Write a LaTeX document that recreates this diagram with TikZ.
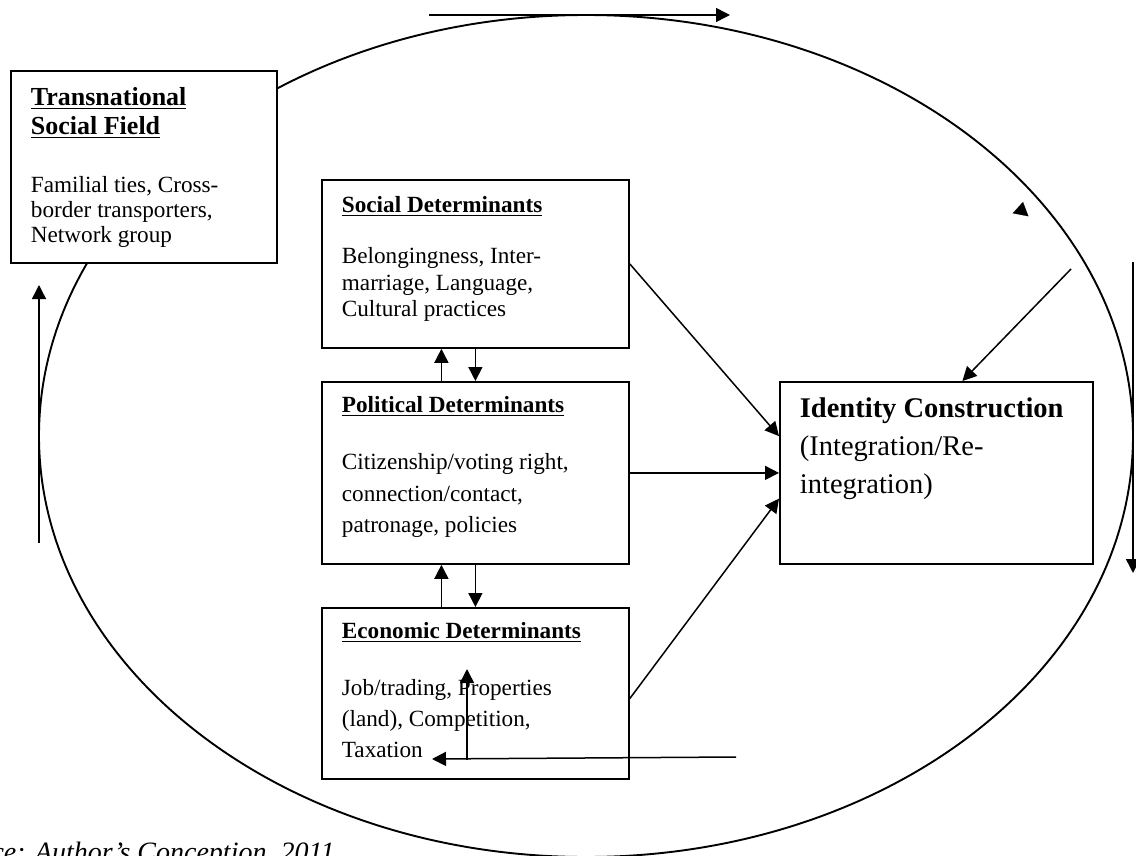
\documentclass[tikz,border=0pt]{standalone}
\usepackage{fontspec}
\setmainfont{Liberation Serif}
\usetikzlibrary{arrows.meta,calc}

\newcommand{\ulhead}[1]{\leavevmode\setbox0=\hbox{\bfseries #1}\rlap{\rule[-3.5pt]{\wd0}{1.7pt}}\box0}

\begin{document}
\begin{tikzpicture}[x=1pt,y=-1pt,
	box/.style={draw, line width=1.8pt, fill=white, anchor=north west, inner xsep=20pt, inner ysep=0pt},
	link/.style={line width=1.5pt, -{Triangle[length=14pt,width=14pt]}}]
	\path[use as bounding box] (0,0) rectangle (1136,856);
	\clip (0,0) rectangle (1136,856);
	\draw[line width=1.9pt] (586,436) ellipse [x radius=547pt, y radius=421pt];
	
	\node[box] (field) at (10,70) {\parbox[t][192pt][t]{226pt}{\fontsize{26}{29}\selectfont\rule{0pt}{35pt}\ulhead{Transnational}\par\ulhead{Social Field}\par
		\fontsize{23.2}{25}\selectfont\vspace{33pt}Familial ties, Cross-\par border transporters,\par Network group}};
	\node[box] (social) at (321,179) {\parbox[t][168pt][t]{267pt}{\fontsize{23.2}{26.5}\selectfont\rule{0pt}{33pt}\ulhead{Social Determinants}\par
		\vspace{24.5pt}Belongingness, Inter-\par marriage, Language,\par Cultural practices}};
	\node[box] (political) at (321,381) {\parbox[t][182pt][t]{267pt}{\fontsize{23.2}{31.5}\selectfont\rule{0pt}{31pt}\ulhead{Political Determinants}\par
		\vspace{25.5pt}Citizenship/voting right,\par connection/contact,\par patronage, policies}};
	\node[box] (economic) at (321,607) {\parbox[t][171pt][t]{267pt}{\fontsize{23.2}{31}\selectfont\rule{0pt}{31pt}\ulhead{Economic Determinants}\par
		\vspace{26pt}Job/trading, Properties\par (land), Competition,\par Taxation}};
	\node[box] (identity) at (779,381) {\parbox[t][182pt][t]{273pt}{\fontsize{28.5}{38}\selectfont\rule{0pt}{36pt}\textbf{Identity Construction}\par
		(Integration/Re-\par integration)}};
	
	\draw[link] (social.south) -- (political.north);
	\draw[link] ([xshift=-34pt]political.north) -- ([xshift=-34pt]social.south);
	\draw[link] (political.south) -- (economic.north);
	\draw[link] ([xshift=-34pt]economic.north) -- ([xshift=-34pt]political.south);
	\draw[link] (social.east) -- ($(identity.north west)!0.3!(identity.south west)$);
	\draw[link] (political.east) -- (identity.west);
	\draw[link] ($(economic.north east)!0.53!(economic.south east)$) -- ($(identity.north west)!0.64!(identity.south west)$);
	
	\coordinate (topL) at (429,15);
	\coordinate (topR) at (730,15);
	\coordinate (leftB) at (39,543);
	\coordinate (leftT) at (39,285);
	\coordinate (rightT) at (1133,262);
	\coordinate (rightB) at (1133,573);
	\coordinate (botR) at (736,757);
	\coordinate (botL) at (432,759);
	\coordinate (riseB) at (467,760);
	\coordinate (riseT) at (467,669);
	\coordinate (outer) at (1071,269);
	\coordinate (tipA) at (1020.5,215);
	\coordinate (tipB) at (1023,202);
	
	\draw[link] (topL) -- (topR);
	\draw[link] (leftB) -- (leftT);
	\draw[link] (rightT) -- (rightB);
	\draw[link] (botR) -- (botL);
	\draw[link] (riseB) -- (riseT);
	\draw[link] (outer) -- ([xshift=26pt]identity.north);
	\draw[line width=0.1pt, -{Triangle[length=13pt,width=16pt]}] (tipA) -- (tipB);
	
	\node[anchor=base east, font=\fontsize{28}{30}\selectfont\itshape] (source) at (338,861) {Source: Author’s Conception, 2011};
\end{tikzpicture}
\end{document}
